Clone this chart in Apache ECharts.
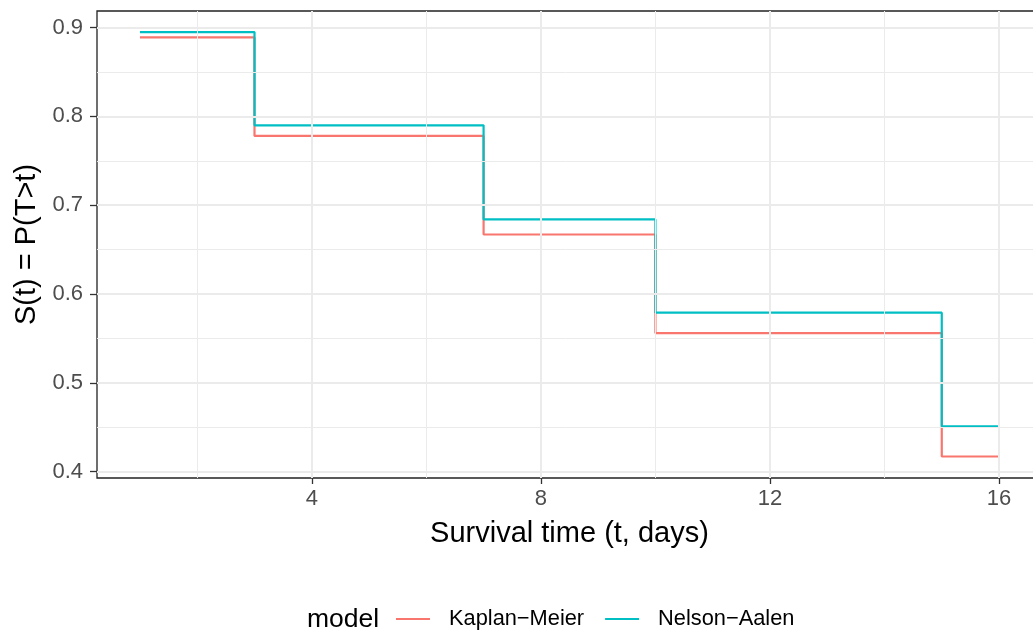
<!DOCTYPE html>
<html>
<head>
<meta charset="utf-8">
<script src="https://cdn.jsdelivr.net/npm/echarts@6/dist/echarts.min.js"></script>
<style>html,body{margin:0;padding:0;background:#fff}#c{width:1033px;height:631px;overflow:hidden}</style>
</head>
<body>
<div id="c"></div>
<script>
const times = [1, 3, 7, 10, 15, 16];
const kaplanMeier = [0.889, 0.778, 0.667, 0.556, 0.417, 0.417];
const nelsonAalen = [0.895, 0.790, 0.684, 0.579, 0.451, 0.451];
const seriesNames = ['Kaplan\u2212Meier', 'Nelson\u2212Aalen'];
const xTicks = [4, 8, 12, 16];
const xMinor = [2, 6, 10, 14];
const yTicks = [0.4, 0.5, 0.6, 0.7, 0.8, 0.9];
const yMinor = [0.45, 0.55, 0.65, 0.75, 0.85];

const FONT = 'Liberation Sans';
const chart = echarts.init(document.getElementById('c'), null, {renderer: 'canvas'});

const minorStyle = {type: 'solid', width: 1, color: '#EBEBEB'};
const majorStyle = {type: 'solid', width: 2, color: '#EBEBEB'};
const gridLines = [];
xMinor.forEach(v => gridLines.push({xAxis: v, lineStyle: minorStyle}));
yMinor.forEach(v => gridLines.push({yAxis: v, lineStyle: minorStyle}));
xTicks.forEach(v => gridLines.push({xAxis: v, lineStyle: majorStyle}));
yTicks.forEach(v => gridLines.push({yAxis: v, lineStyle: majorStyle}));

chart.setOption({
  animation: false,
  backgroundColor: '#ffffff',
  title: {
    text: 'model', left: 302, top: 601,
    textStyle: {fontFamily: FONT, fontSize: 26.5, fontWeight: 'normal', color: '#000'}
  },
  legend: {
    data: seriesNames,
    left: 391, top: 603,
    icon: 'rect', itemWidth: 34, itemHeight: 2.2, itemGap: 21,
    textStyle: {fontFamily: FONT, fontSize: 21.8, color: '#000', padding: [0, 0, 0, 14]}
  },
  grid: {
    left: 97, top: 11, width: 945, height: 467,
    outerBoundsMode: 'none', containLabel: false,
    show: true, borderColor: '#222222', borderWidth: 1.3, backgroundColor: 'transparent'
  },
  xAxis: {
    type: 'value', min: 0.25, max: 16.75,
    name: 'Survival time (t, days)', nameLocation: 'middle', nameGap: 41,
    nameTextStyle: {fontFamily: FONT, fontSize: 29, color: '#000'},
    axisLine: {show: false},
    axisTick: {show: true, length: 6, lineStyle: {color: '#333333', width: 1.3}, customValues: xTicks},
    axisLabel: {customValues: xTicks, margin: 10, fontFamily: FONT, fontSize: 22, color: '#4D4D4D'},
    splitLine: {show: false}
  },
  yAxis: {
    type: 'value', min: 0.39276, max: 0.91875,
    name: 'S(t) = P(T>t)', nameLocation: 'middle', nameGap: 54,
    nameTextStyle: {fontFamily: FONT, fontSize: 29, color: '#000'},
    axisLine: {show: false},
    axisTick: {show: true, length: 7, lineStyle: {color: '#333333', width: 1.3}, customValues: yTicks},
    axisLabel: {customValues: yTicks, margin: 14, fontFamily: FONT, fontSize: 22, color: '#4D4D4D',
      formatter: v => v.toFixed(1)},
    splitLine: {show: false}
  },
  series: [
    {
      type: 'line', name: '_grid', data: [], z: 1, silent: true,
      markLine: {silent: true, symbol: 'none', label: {show: false}, animation: false, data: gridLines}
    },
    {
      type: 'line', name: seriesNames[0], step: 'end', showSymbol: false, z: 3,
      data: times.map((t, i) => [t, kaplanMeier[i]]),
      itemStyle: {color: '#F8766D'}, lineStyle: {color: '#F8766D', width: 2.2}
    },
    {
      type: 'line', name: seriesNames[1], step: 'end', showSymbol: false, z: 4,
      data: times.map((t, i) => [t, nelsonAalen[i]]),
      itemStyle: {color: '#00BFC4'}, lineStyle: {color: '#00BFC4', width: 2.2}
    }
  ]
});
</script>
</body>
</html>
